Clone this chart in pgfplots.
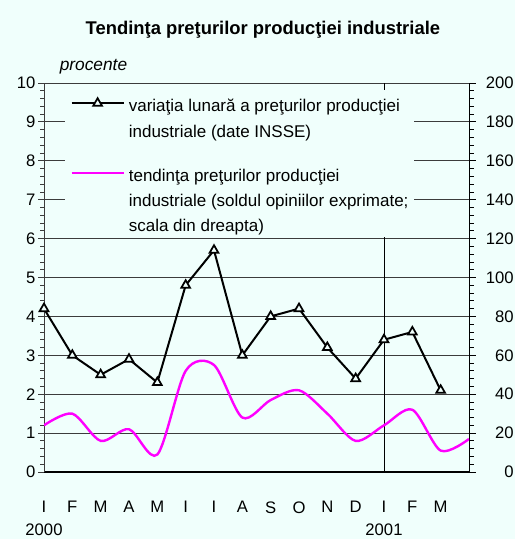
\documentclass[border=0pt]{standalone}
\usepackage{fontspec}
\setmainfont{Liberation Sans}
\usepackage{pgfplots}
\pgfplotsset{compat=1.18}
\definecolor{bgc}{RGB}{240,255,252}
\definecolor{gridc}{RGB}{60,60,60}
\definecolor{magc}{RGB}{255,0,255}
% strut with given depth and height, to space the legend rows
\newcommand{\ls}[2]{\rule[-#1]{0pt}{\dimexpr#1+#2\relax}}
\begin{document}
\begin{tikzpicture}
\path[use as bounding box, fill=bgc] (-33pt,-50.25pt) rectangle (353.25pt,354pt);
% left scale: monthly change (%)
\begin{axis}[
  scale only axis, width=318.75pt, height=291.75pt,
  at={(0,0)}, anchor=south west,
  xmin=0, xmax=15, ymin=0, ymax=10,
  axis x line*=bottom, axis y line*=left,
  x axis line style={line width=1.5pt, -},
  y axis line style={gridc, line width=0.6pt, -},
  xtick={0,...,14},
  xticklabels={{I\\2000},F,M,A,M,I,I,A,S,O,N,D,{I\\2001},F,M},
  x tick style={draw=none},
  xticklabel style={align=center, font=\fontsize{12.5}{17}\selectfont, yshift=-14pt},
  ytick={0,...,10}, minor y tick num=4,
  tick align=outside, major tick length=4.5pt, minor tick length=3pt,
  y tick style={gridc, line width=0.6pt},
  yticklabel style={font=\fontsize{12.5}{15}\selectfont, xshift=1.5pt},
  ymajorgrids, major grid style={gridc, line width=0.6pt},
  /pgf/number format/assume math mode=true,
  clip=false,
]
\draw[black, line width=0.6pt] (axis cs:12,0) -- (axis cs:12,10);
\addplot[black, line width=1.5pt, mark=triangle*, mark size=3.8pt,
  mark options={solid, fill=bgc, draw=black, line width=1.3pt}] coordinates {
  (0,4.2) (1,3.0) (2,2.5) (3,2.9) (4,2.3) (5,4.8) (6,5.7) (7,3.0)
  (8,4.0) (9,4.2) (10,3.2) (11,2.4) (12,3.4) (13,3.6) (14,2.1)
};
\node[anchor=base, yshift=36pt, font=\bfseries\fontsize{13.8}{16}\selectfont]
  at (rel axis cs:0.515,1) {Tendinţa preţurilor producţiei industriale};
\node[anchor=base west, yshift=9pt, font=\itshape\fontsize{13}{15}\selectfont]
  at (rel axis cs:0.026,1) {procente};
\end{axis}
% right scale: balance of opinions
\begin{axis}[
  scale only axis, width=318.75pt, height=291.75pt,
  at={(0,0)}, anchor=south west,
  xmin=0, xmax=15, ymin=0, ymax=200,
  axis x line=none, axis y line*=right,
  y axis line style={black, line width=0.6pt, -},
  ytick={0,20,...,200}, minor y tick num=4,
  tick align=outside, major tick length=5pt, minor tick length=3.5pt,
  y tick style={black, line width=0.6pt},
  yticklabel style={font=\fontsize{12.5}{15}\selectfont, anchor=east, xshift=32pt},
  /pgf/number format/assume math mode=true,
  legend style={at={(0.049,0.982)}, anchor=north west, draw=none, fill=bgc,
    inner xsep=4pt, inner ysep=1pt, font=\fontsize{12.75}{15}\selectfont,
    row sep=0pt, column sep=3pt, cells={anchor=base west},
    nodes={inner sep=0pt, text depth=}},
  legend image code/.code={\draw[mark repeat=2, mark phase=2]
    plot coordinates {(0pt,6pt) (19.5pt,6pt) (39pt,6pt)};},
]
\addlegendimage{black, line width=1.5pt, mark=triangle*, mark size=3.8pt,
  mark options={solid, fill=bgc, draw=black, line width=1.3pt}}
\addlegendentry{\ls{7pt}{14.75pt}variaţia lunară a preţurilor producţiei}
\addlegendimage{empty legend}
\addlegendentry{\ls{20.5pt}{13pt}industriale (date INSSE)}
\addplot[magc, line width=1.8pt, smooth, tension=0.5] coordinates {
  (0,24) (1,30) (2,16) (3,22) (4,9) (5,52) (6,55) (7,28)
  (8,37) (9,42) (10,30) (11,16) (12,24) (13,32) (14,11) (15,17)
};
\addlegendentry{\ls{6.75pt}{12pt}tendinţa preţurilor producţiei}
\addlegendimage{empty legend}
\addlegendentry{\ls{6.75pt}{12pt}industriale (soldul opiniilor exprimate;}
\addlegendimage{empty legend}
\addlegendentry{\ls{3pt}{12pt}scala din dreapta)}
\end{axis}
\end{tikzpicture}
\end{document}
